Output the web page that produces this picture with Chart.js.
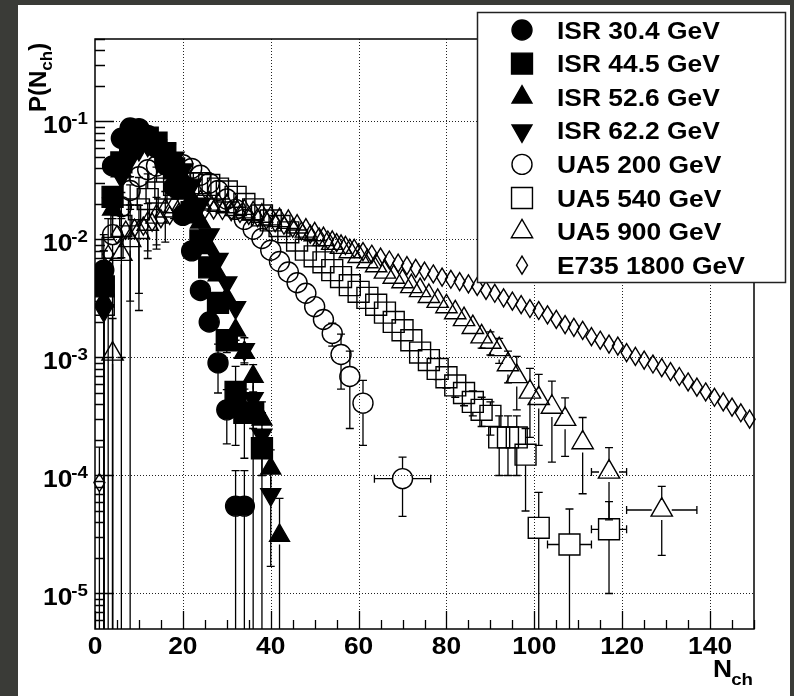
<!DOCTYPE html>
<html>
<head>
<meta charset="utf-8">
<script src="https://cdn.jsdelivr.net/npm/chart.js@4.4.1/dist/chart.umd.min.js"></script>
<style>
  html, body { margin: 0; padding: 0; background: #3a3b37; }
  #wrap { width: 794px; height: 696px; }
</style>
</head>
<body>
<div id="wrap"><canvas id="grafico" width="794" height="696"></canvas></div>
<script>
// ISR 30.4 GeV (círculos cheios)
const nISR30 = [2,4,6,8,10,12,14,16,18,20,22,24,26,28,30,32,34];
const pISR30 = [0.0055,0.042,0.072,0.088,0.087,0.076,0.060,0.043,0.028,0.016,0.0080,0.0037,0.0020,0.00090,0.00036,0.000055,0.000055];
const eISR30 = [0.0055,0.004,0,0,0,0,0,0,0,0,0.0006,0.0004,0.0003,0.0004,0.000175,0.000055,0.000055];

// ISR 44.5 GeV (quadrados cheios)
const nISR44 = [2,4,6,8,10,12,14,16,18,20,22,24,26,28,30,32,34,36,38];
const pISR44 = [0.004,0.023,0.045,0.063,0.074,0.073,0.066,0.054,0.040,0.027,0.017,0.0098,0.0058,0.0029,0.0014,0.00051,0.00034,0.00034,0.00017];
const eISR44 = [0.004,0.003,0,0,0,0,0,0,0,0,0,0.0008,0.0006,0.0004,0.0003,0.00033,0.0002,0.00034,0.00017];

// ISR 52.6 GeV (triângulos cheios)
const nISR52 = [2,4,6,8,10,12,14,16,18,20,22,24,26,28,30,32,34,36,38,40,42];
const pISR52 = [0.003,0.018,0.038,0.055,0.066,0.069,0.064,0.056,0.045,0.033,0.022,0.014,0.0085,0.0050,0.0032,0.0017,0.0011,0.00069,0.00030,0.000115,0.000031];
const eISR52 = [0.003,0.003,0,0,0,0,0,0,0,0,0,0,0.0008,0.0006,0.0004,0.0003,0.0002,0.00018,0.00012,0.00005,0.000033];

// ISR 62.2 GeV (triângulos invertidos)
const nISR62 = [2,4,6,8,10,12,14,16,18,20,22,24,26,28,30,32,34,36,38,40];
const pISR62 = [0.0025,0.020,0.034,0.048,0.058,0.063,0.062,0.057,0.049,0.039,0.029,0.020,0.011,0.0068,0.0043,0.00265,0.00117,0.00045,0.00022,0.000069];
const eISR62 = [0.0025,0.003,0,0,0,0,0,0,0,0,0,0,0.001,0.0007,0.0005,0.0004,0.0003,0.0002,0.00012,0.000052];

// UA5 200 GeV (círculos abertos)
const nUA200 = [2,4,6,8,10,12,14,16,18,20,22,24,26,28,30,32,34,36,38,40,42,44,46,48,50,52,54,56,58,61,70];
const pUA200 = [0.004,0.011,0.019,0.026,0.034,0.039,0.042,0.044,0.044,0.043,0.040,0.035,0.030,0.026,0.022,0.018,0.0148,0.0122,0.0102,0.0081,0.0065,0.0053,0.0043,0.0035,0.0027,0.0021,0.0016,0.00106,0.00069,0.00041,0.000094];
const eUA200 = [0.004,0.011,0.012,0.008,0.006,0.004,0,0,0,0,0,0,0,0,0,0,0,0,0,0,0,0,0.0003,0.0003,0.0003,0.0003,0.00035,0.00052,0.00044,0.00023,0.000049];
const xUA200 = [0,0,0,0,0,0,0,0,0,0,0,0,0,0,0,0,0,0,0,0,0,0,0,0,0,0,0,0,0,0,6.4];

// UA5 540 GeV (quadrados abertos)
const nUA540 = [2,4,6,8,10,12,14,16,18,20,22,24,26,28,30,32,34,36,38,40,42,44,46,48,50,52,54,56,58,60,62,64,66,68,70,72,74,76,78,80,82,84,86,88,90,92,94,96,98,101,108,117];
const pUA540 = [0.0028,0.0085,0.013,0.016,0.018,0.022,0.025,0.027,0.029,0.030,0.030,0.030,0.029,0.027,0.0255,0.023,0.020,0.018,0.016,0.0145,0.013,0.0115,0.0098,0.0082,0.0072,0.0064,0.0055,0.0048,0.0041,0.0036,0.0032,0.0028,0.0024,0.0020,0.0017,0.0014,0.0011,0.00095,0.00080,0.00068,0.00058,0.00050,0.00042,0.00036,0.00032,0.00021,0.00021,0.00021,0.00015,0.000036,0.000026,0.000035];
const eUA540 = [0.0028,0.0085,0.012,0.013,0.0155,0.014,0.016,0.010,0.006,0,0,0,0,0,0,0,0,0,0,0,0,0,0,0,0,0,0,0,0,0,0.0003,0.0003,0.0003,0.00025,0.0002,0.0002,0.00018,0.00015,0.00015,0.00013,0.00012,0.00011,0.0001,0.0001,0.0001,0.00011,0.00011,0.00011,0.0001,0.000036,0.000026,0.000025];
const xUA540 = [0,0,0,0,0,0,0,0,0,0,0,0,0,0,0,0,0,0,0,0,0,0,0,0,0,0,0,0,0,0,0,0,0,0,0,0,0,0,0,0,0,0,0,0,0,0,0,0,0,0,5,4];

// UA5 900 GeV (triângulos abertos)
const nUA900 = [4,6,8,10,12,14,16,18,20,22,24,26,28,30,32,34,36,38,40,42,44,46,48,50,52,54,56,58,60,62,64,66,68,70,72,74,76,78,80,82,84,86,88,90,92,94,96,99,101,104,107,111,117,129];
const pUA900 = [0.00107,0.0075,0.0098,0.0115,0.0135,0.0155,0.0175,0.019,0.020,0.0205,0.0205,0.020,0.0195,0.019,0.018,0.0172,0.0165,0.0158,0.0150,0.0145,0.0140,0.0128,0.0118,0.0110,0.0100,0.0093,0.0086,0.0079,0.0072,0.0065,0.0060,0.0053,0.0048,0.0044,0.0040,0.0037,0.0033,0.0030,0.0027,0.0024,0.0021,0.0018,0.0015,0.00135,0.00117,0.00087,0.00069,0.00051,0.00045,0.00038,0.00030,0.00019,0.000107,0.000051];
const eUA900 = [0.00107,0.0075,0.0098,0.008,0.0066,0.0072,0.008,0.004,0,0,0,0,0,0,0,0,0,0,0,0,0,0,0,0,0,0,0,0,0.0006,0.0006,0.0005,0.0005,0.0005,0.00045,0.00045,0.0004,0.0004,0.0004,0.00035,0.00035,0.0003,0.0003,0.0003,0.0003,0.00028,0.00026,0.00033,0.0003,0.00027,0.00025,0.000155,0.00012,0.000065,0.00003];
const xUA900 = [0,0,0,0,0,0,0,0,0,0,0,0,0,0,0,0,0,0,0,0,0,0,0,0,0,0,0,0,0,0,0,0,0,0,0,0,0,0,0,0,0,0,0,0,0,0,0,0,0,0,0,0,4,8];

// E735 1800 GeV (losangos)
const nE735 = [1,3,5,7,9,11,13,15,17,19,21,23,25,27,29,31,33,35,37,39,41,43,45,47,49,51,53,55,57,59,61,63,65,67,69,71,73,75,77,79,81,83,85,87,89,91,93,95,97,99,101,103,105,107,109,111,113,115,117,119,121,123,125,127,129,131,133,135,137,139,141,143,145,147,149];
const pE735 = [0.000087,0.0075,0.011,0.012,0.0125,0.013,0.014,0.015,0.016,0.0168,0.0172,0.0176,0.0178,0.0178,0.0176,0.0172,0.0166,0.016,0.0153,0.0146,0.0139,0.0132,0.0125,0.0118,0.0111,0.0105,0.0099,0.0094,0.0089,0.0084,0.0079,0.0075,0.0071,0.0067,0.0063,0.0060,0.0057,0.0054,0.0051,0.0048,0.0046,0.0044,0.0042,0.0040,0.0037,0.0035,0.0032,0.0030,0.0028,0.0026,0.0025,0.0023,0.0021,0.0019,0.0018,0.0017,0.0015,0.0014,0.0013,0.00125,0.0011,0.00102,0.00095,0.00088,0.00082,0.00076,0.00069,0.00062,0.00056,0.00051,0.00046,0.00042,0.00038,0.00034,0.00030];
const eE735 = [0.000087,0.0075];

const rotulos = ['ISR 30.4 GeV','ISR 44.5 GeV','ISR 52.6 GeV','ISR 62.2 GeV','UA5 200 GeV','UA5 540 GeV','UA5 900 GeV','E735 1800 GeV'];
const ticksX = [0,20,40,60,80,100,120,140];
const expoentesY = [-1,-2,-3,-4,-5];

const SX = 1.1; // o texto original está esticado na horizontal
const FONTE = '"Liberation Sans", Arial, Helvetica, sans-serif';

function pontos(xs, ys) {
  return xs.map(function(x, i) { return { x: x, y: ys[i] }; });
}

function serie(label, xs, ys, ey, ex, estilo, raio, rot, cheio, gap) {
  return {
    label: label,
    data: pontos(xs, ys),
    ey: ey || [],
    ex: ex || [],
    gap: gap,
    pointStyle: estilo,
    pointRadius: raio,
    pointRotation: rot,
    pointBackgroundColor: cheio ? '#000' : 'rgba(0,0,0,0)',
    pointBorderColor: '#000',
    pointBorderWidth: 1.4,
    showLine: false
  };
}

// losango alongado (o Chart.js não tem esse estilo)
function losango(c, x, y) {
  c.beginPath();
  c.moveTo(x, y - 9);
  c.lineTo(x + 5.5, y);
  c.lineTo(x, y + 9);
  c.lineTo(x - 5.5, y);
  c.closePath();
  c.stroke();
}

function texto(c, s, x, y, tam, alinh) {
  c.save();
  c.font = 'bold ' + tam + 'px ' + FONTE;
  const w = c.measureText(s).width * SX;
  let x0 = x;
  if (alinh === 'right') x0 = x - w;
  else if (alinh === 'center') x0 = x - w / 2;
  c.translate(x0, y);
  c.scale(SX, 1);
  c.textAlign = 'left';
  c.textBaseline = 'alphabetic';
  c.fillStyle = '#000';
  c.fillText(s, 0, 0);
  c.restore();
  return w;
}

function largura(c, s, tam) {
  c.save();
  c.font = 'bold ' + tam + 'px ' + FONTE;
  const w = c.measureText(s).width * SX;
  c.restore();
  return w;
}

function barrasErro(chart) {
  const c = chart.ctx, ca = chart.chartArea;
  const xs = chart.scales.x, ys = chart.scales.y;
  c.save();
  c.beginPath();
  c.rect(ca.left, ca.top, ca.right - ca.left, ca.bottom - ca.top);
  c.clip();
  c.strokeStyle = '#000';
  c.lineWidth = 1.3;
  const cap = 4;
  chart.data.datasets.forEach(function(ds) {
    ds.data.forEach(function(p, i) {
      const px = xs.getPixelForValue(p.x), py = ys.getPixelForValue(p.y);
      const e = ds.ey[i] || 0;
      if (e > 0) {
        const topo = ys.getPixelForValue(p.y + e);
        const baixoV = p.y - e;
        const baixo = baixoV > 1e-9 ? ys.getPixelForValue(baixoV) : ca.bottom + 5;
        c.beginPath();
        if (topo < py - ds.gap) {
          c.moveTo(px, py - ds.gap); c.lineTo(px, topo);
          c.moveTo(px - cap, topo); c.lineTo(px + cap, topo);
        }
        if (baixo > py + ds.gap) {
          c.moveTo(px, py + ds.gap); c.lineTo(px, baixo);
          if (baixoV > 1e-9) { c.moveTo(px - cap, baixo); c.lineTo(px + cap, baixo); }
        }
        c.stroke();
      }
      const ex = ds.ex[i] || 0;
      if (ex > 0) {
        const esq = xs.getPixelForValue(p.x - ex), dir = xs.getPixelForValue(p.x + ex);
        c.beginPath();
        c.moveTo(px - ds.gap, py); c.lineTo(esq, py);
        c.moveTo(esq, py - cap); c.lineTo(esq, py + cap);
        c.moveTo(px + ds.gap, py); c.lineTo(dir, py);
        c.moveTo(dir, py - cap); c.lineTo(dir, py + cap);
        c.stroke();
      }
    });
  });
  c.restore();
}

const desenho = {
  id: 'desenho',
  beforeDraw(chart) {
    const c = chart.ctx;
    c.save();
    c.fillStyle = '#3a3b37';
    c.fillRect(0, 0, chart.width, chart.height);
    c.fillStyle = '#ffffff';
    c.fillRect(18, 5, 772, 691);
    c.restore();
  },
  beforeDatasetsDraw(chart) {
    const c = chart.ctx, ca = chart.chartArea;
    const xs = chart.scales.x, ys = chart.scales.y;
    // grade pontilhada
    c.save();
    c.strokeStyle = '#222';
    c.lineWidth = 1;
    c.setLineDash([1, 2]);
    c.beginPath();
    ticksX.forEach(function(v) {
      if (v <= 0) return;
      const x = Math.round(xs.getPixelForValue(v)) + 0.5;
      c.moveTo(x, ca.top); c.lineTo(x, ca.bottom);
    });
    expoentesY.forEach(function(k) {
      const y = Math.round(ys.getPixelForValue(Math.pow(10, k))) + 0.5;
      c.moveTo(ca.left, y); c.lineTo(ca.right, y);
    });
    c.stroke();
    c.restore();
    barrasErro(chart);
  },
  afterDatasetDraw(chart, args) {
    const ds = chart.data.datasets[args.index];
    if (!ds.losango) return;
    const c = chart.ctx;
    c.save();
    c.strokeStyle = '#000';
    c.lineWidth = 1.4;
    args.meta.data.forEach(function(el) { losango(c, el.x, el.y); });
    c.restore();
  },
  afterDatasetsDraw(chart) {
    const c = chart.ctx, ca = chart.chartArea;
    const xs = chart.scales.x, ys = chart.scales.y;
    c.save();
    c.strokeStyle = '#000';
    c.lineWidth = 1.3;
    // marcas do eixo y (para dentro)
    c.beginPath();
    for (let d = -6; d <= -1; d++) {
      for (let m = 1; m <= 9; m++) {
        const v = m * Math.pow(10, d);
        if (v < ys.min || v > ys.max) continue;
        const y = Math.round(ys.getPixelForValue(v)) + 0.5;
        const len = m === 1 ? 19 : 10;
        c.moveTo(ca.left, y); c.lineTo(ca.left + len, y);
      }
    }
    // marcas do eixo x
    for (let v = 0; v <= 150; v += 5) {
      const x = Math.round(xs.getPixelForValue(v)) + 0.5;
      const len = v % 20 === 0 ? 18 : 9;
      c.moveTo(x, ca.bottom); c.lineTo(x, ca.bottom - len);
    }
    c.stroke();
    // moldura
    c.lineWidth = 1.5;
    c.strokeRect(ca.left, ca.top, ca.right - ca.left, ca.bottom - ca.top);
    c.restore();

    // rótulos do eixo y: 10^k
    expoentesY.forEach(function(k) {
      const y = ys.getPixelForValue(Math.pow(10, k));
      const sup = String(k);
      const ws = largura(c, sup, 17);
      texto(c, sup, 88, y + 3, 17, 'right');
      texto(c, '10', 88 - ws + 1, y + 12, 24, 'right');
    });
    // rótulos do eixo x
    ticksX.forEach(function(v) {
      texto(c, String(v), xs.getPixelForValue(v), 654, 24, 'center');
    });

    // título do eixo x: N_ch
    const wch = largura(c, 'ch', 17);
    texto(c, 'ch', 753, 685, 17, 'right');
    texto(c, 'N', 753 - wch + 1, 677, 24, 'right');

    // título do eixo y: P(N_ch)
    c.save();
    c.translate(46, 112);
    c.rotate(-Math.PI / 2);
    c.fillStyle = '#000';
    c.textBaseline = 'alphabetic';
    c.font = 'bold 24px ' + FONTE;
    c.fillText('P(N', 0, 0);
    let w = c.measureText('P(N').width;
    c.font = 'bold 17px ' + FONTE;
    c.fillText('ch', w, 6);
    w += c.measureText('ch').width;
    c.font = 'bold 24px ' + FONTE;
    c.fillText(')', w, 0);
    c.restore();

    // legenda
    c.save();
    c.fillStyle = '#fff';
    c.fillRect(477, 12, 308, 270);
    c.strokeStyle = '#222';
    c.lineWidth = 1.5;
    c.strokeRect(477.5, 12.5, 308, 270);
    chart.data.datasets.forEach(function(ds, i) {
      const yl = 30 + i * 33.6;
      c.save();
      c.fillStyle = ds.pointBackgroundColor;
      c.strokeStyle = '#000';
      c.lineWidth = 1.4;
      if (ds.losango) {
        losango(c, 522, yl);
      } else {
        Chart.helpers.drawPoint(c, {
          pointStyle: ds.pointStyle,
          radius: ds.pointRadius,
          rotation: ds.pointRotation,
          borderWidth: 1.4
        }, 522, yl);
      }
      c.restore();
      texto(c, ds.label, 557, yl + 8.5, 24, 'left');
    });
    c.restore();
  }
};

const dsE735 = serie(rotulos[7], nE735, pE735, eE735, null, 'rectRot', 0, 0, false, 9);
dsE735.losango = true;

const ctx = document.getElementById('grafico').getContext('2d');
const grafico = new Chart(ctx, {
  type: 'scatter',
  data: {
    datasets: [
      serie(rotulos[0], nISR30, pISR30, eISR30, null, 'circle', 10, 0, true, 10),
      serie(rotulos[1], nISR44, pISR44, eISR44, null, 'rect', 14.8, 0, true, 10),
      serie(rotulos[2], nISR52, pISR52, eISR52, null, 'triangle', 11.5, 0, true, 9),
      serie(rotulos[3], nISR62, pISR62, eISR62, null, 'triangle', 11.5, 180, true, 9),
      serie(rotulos[4], nUA200, pUA200, eUA200, xUA200, 'circle', 10, 0, false, 10),
      serie(rotulos[5], nUA540, pUA540, eUA540, xUA540, 'rect', 14.8, 0, false, 10.5),
      serie(rotulos[6], nUA900, pUA900, eUA900, xUA900, 'triangle', 12.3, 0, false, 10),
      dsE735
    ]
  },
  options: {
    responsive: false,
    animation: false,
    events: [],
    devicePixelRatio: 1,
    layout: { padding: { left: 95, top: 39, right: 40, bottom: 67 } },
    scales: {
      x: { type: 'linear', min: 0, max: 150, display: false },
      y: { type: 'logarithmic', min: 5e-6, max: 0.5, display: false }
    },
    plugins: {
      legend: { display: false },
      tooltip: { enabled: false }
    }
  },
  plugins: [desenho]
});
</script>
</body>
</html>
